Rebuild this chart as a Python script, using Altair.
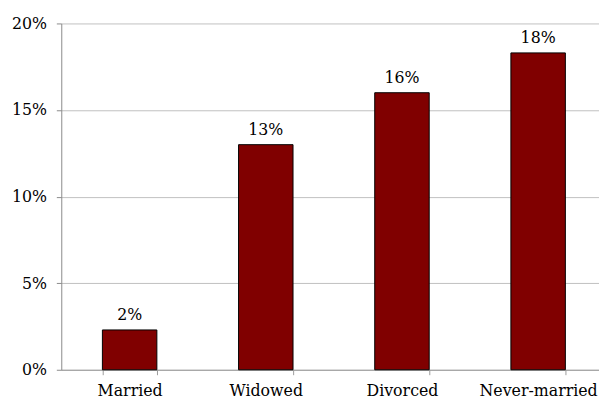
import altair as alt
import pandas as pd

categories = ["Married", "Widowed", "Divorced", "Never-married"]
values = [2.3, 13.0, 16.0, 18.3]
labels = ["2%", "13%", "16%", "18%"]

df = pd.DataFrame({"cat": categories, "val": values, "lab": labels})

FONT = "DejaVu Serif"

x = alt.X("cat:N", sort=categories, title=None,
          scale=alt.Scale(paddingInner=0.6, paddingOuter=0.2745, align=0.55),
          axis=alt.Axis(labelAngle=0, tickBand="extent", domainColor="#9a9a9a",
                        tickColor="#9a9a9a", tickSize=5, labelPadding=8,
                        labelFont=FONT, labelFontSize=16, labelColor="black",
                        grid=False))
y = alt.Y("val:Q", title=None,
          scale=alt.Scale(domain=[0, 20], nice=False),
          axis=alt.Axis(values=[0, 5, 10, 15, 20], labelExpr="datum.value + '%'",
                        domainColor="#8a8a8a", tickColor="#8a8a8a", tickSize=5,
                        labelPadding=10, labelFont=FONT, labelFontSize=16,
                        labelColor="black", grid=True, gridColor="#c0c0c0"))

base = alt.Chart(df).encode(x=x, y=y)
bars = base.mark_bar(color="#800000", stroke="black", strokeWidth=1)
text = base.mark_text(dy=-15, font=FONT, fontSize=16, color="black").encode(text="lab:N")

chart = (bars + text).properties(
    width=545, height=351,
    autosize=alt.AutoSizeParams(type="none"),
    padding={"left": 54, "top": 13, "right": 0, "bottom": 30},
).configure_view(stroke=None)

chart.save("out.html", embed_options={"renderer": "svg", "actions": False})
